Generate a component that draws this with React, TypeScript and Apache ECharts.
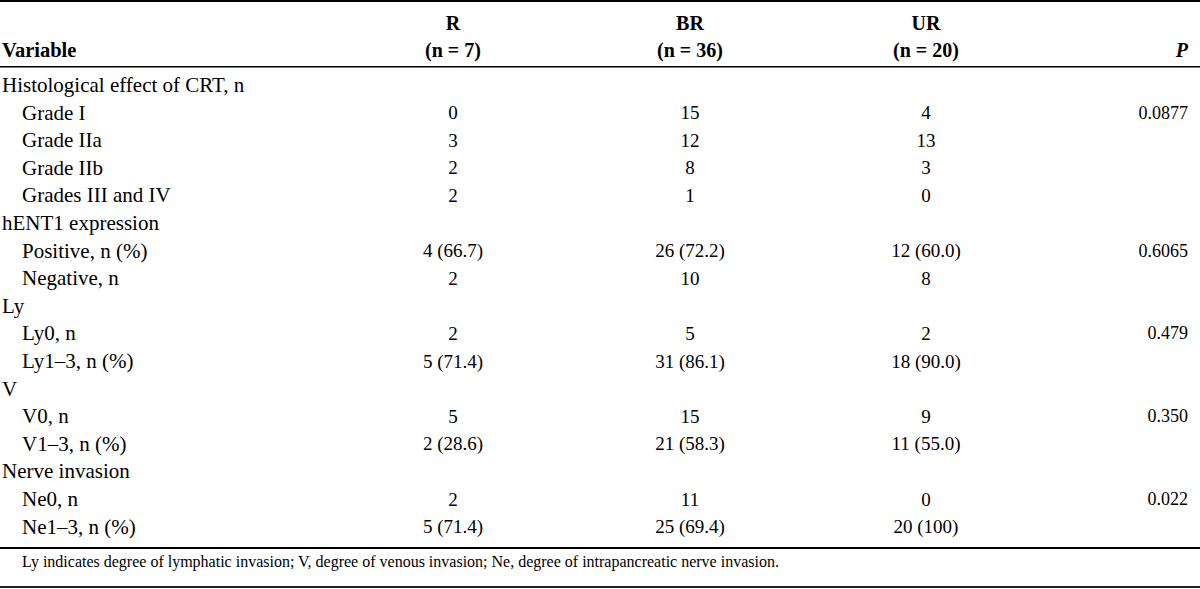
import React, { useEffect, useRef } from "react";
import * as echarts from "echarts";

const groupNames = ["R", "BR", "UR"];
const groupNs = ["(n = 7)", "(n = 36)", "(n = 20)"];
const variableHeader = "Variable";
const pHeader = "P";

const rowLabels = [
  "Histological effect of CRT, n",
  "Grade I",
  "Grade IIa",
  "Grade IIb",
  "Grades III and IV",
  "hENT1 expression",
  "Positive, n (%)",
  "Negative, n",
  "Ly",
  "Ly0, n",
  "Ly1–3, n (%)",
  "V",
  "V0, n",
  "V1–3, n (%)",
  "Nerve invasion",
  "Ne0, n",
  "Ne1–3, n (%)",
];
const rowIndent = [0, 1, 1, 1, 1, 0, 1, 1, 0, 1, 1, 0, 1, 1, 0, 1, 1];
const rValues = ["", "0", "3", "2", "2", "", "4 (66.7)", "2", "", "2", "5 (71.4)", "", "5", "2 (28.6)", "", "2", "5 (71.4)"];
const brValues = ["", "15", "12", "8", "1", "", "26 (72.2)", "10", "", "5", "31 (86.1)", "", "15", "21 (58.3)", "", "11", "25 (69.4)"];
const urValues = ["", "4", "13", "3", "0", "", "12 (60.0)", "8", "", "2", "18 (90.0)", "", "9", "11 (55.0)", "", "0", "20 (100)"];
const pValues = ["", "0.0877", "", "", "", "", "0.6065", "", "", "0.479", "", "", "0.350", "", "", "0.022", ""];
const footnote =
  "Ly indicates degree of lymphatic invasion; V, degree of venous invasion; Ne, degree of intrapancreatic nerve invasion.";

const W = 1200;
const H = 589;
const FONT = "'Liberation Serif', 'Times New Roman', serif";
const colX = [453, 690, 926];
const pRight = 1188;
const rowY0 = 85;
const rowStep = 27.6;

function txt(text: string, x: number, y: number, align: string, size: number, opts: any = {}) {
  return {
    type: "text",
    silent: true,
    style: {
      text,
      x,
      y,
      fill: "#000",
      fontFamily: FONT,
      fontSize: size,
      fontWeight: opts.bold ? "bold" : "normal",
      fontStyle: opts.italic ? "italic" : "normal",
      align,
      verticalAlign: "middle",
      textAlign: align,
      textVerticalAlign: "middle",
    },
  };
}

function hline(y: number, h: number, color: string) {
  return {
    type: "rect",
    silent: true,
    shape: { x: 0, y, width: W, height: h },
    style: { fill: color },
  };
}

export default function App() {
  const ref = useRef<HTMLDivElement>(null);
  useEffect(() => {
    if (!ref.current) return;
    const chart = echarts.init(ref.current, undefined, { renderer: "svg" });
    const els: any[] = [];
    els.push(hline(0, 2, "#000"));
    els.push(hline(66, 1.6, "#000"));
    els.push(hline(547, 2, "#000"));
    els.push(hline(586, 2, "#222"));
    // header
    const h1 = 22.5;
    const h2 = 50;
    els.push(txt(variableHeader, 2, h2, "left", 20.5, { bold: true }));
    groupNames.forEach((g, i) => {
      els.push(txt(g, colX[i], h1, "center", 20, { bold: true }));
      els.push(txt(groupNs[i], colX[i], h2, "center", 20, { bold: true }));
    });
    els.push(txt(pHeader, pRight, h2, "right", 20, { bold: true, italic: true }));
    // body
    rowLabels.forEach((lab, i) => {
      const y = rowY0 + i * rowStep;
      els.push(txt(lab, rowIndent[i] ? 22 : 2, y, "left", 21));
      if (rValues[i]) els.push(txt(rValues[i], colX[0], y, "center", 19));
      if (brValues[i]) els.push(txt(brValues[i], colX[1], y, "center", 19));
      if (urValues[i]) els.push(txt(urValues[i], colX[2], y, "center", 19));
      if (pValues[i]) els.push(txt(pValues[i], pRight, y, "right", 18));
    });
    els.push(txt(footnote, 22, 561, "left", 16));
    chart.setOption({
      animation: false,
      backgroundColor: "#fff",
      graphic: { elements: els },
    });
    return () => chart.dispose();
  }, []);
  return (
    <div
      ref={ref}
      style={{ position: "fixed", left: 0, top: 0, width: W, height: H, background: "#fff" }}
    />
  );
}
